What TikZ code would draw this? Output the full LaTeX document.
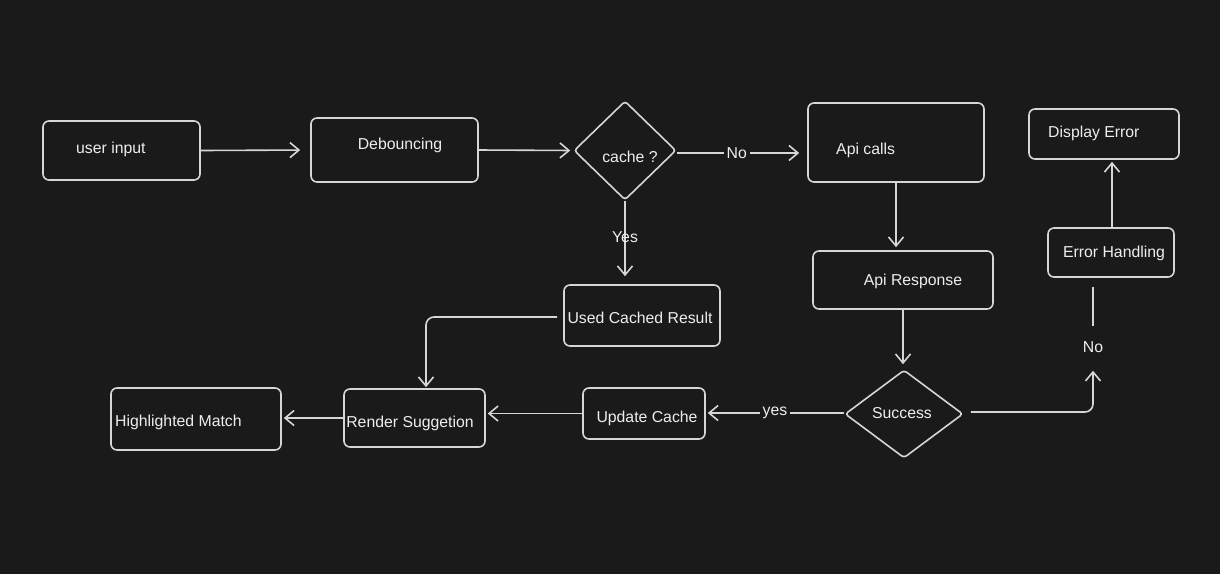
\documentclass[tikz,border=0pt]{standalone}
\usepackage{fontspec}
\setmainfont{Liberation Sans}
\usetikzlibrary{arrows.meta,shapes.geometric,fit}
\definecolor{bg}{HTML}{1A1A1A}
\definecolor{ink}{HTML}{D6D6D6}
\definecolor{txt}{HTML}{EEEEEE}
\tikzset{
  x=1pt,y=-1pt,
  box/.style={draw=ink,line width=1.6pt,rounded corners=6pt,inner sep=0pt},
  dia/.style={draw=ink,line width=1.6pt,shape=diamond,inner sep=0pt,rounded corners=3pt},
  lbl/.style={text=txt,inner sep=2pt,font=\fontsize{15.8}{19}\selectfont},
  arr/.style={draw=ink,line width=1.6pt,-{Straight Barb[length=9pt,width=15pt,line width=1.6pt]}},
  plain/.style={draw=ink,line width=1.6pt},
}
\begin{document}
\begin{tikzpicture}
\fill[bg] (0,0) rectangle (1220,574);
\useasboundingbox (0,0) rectangle (1220,574);
% boxes
\node[box,fit={(43,121) (200,180)}] (ui) {};
\node[box,fit={(311,118) (478,182)}] (db) {};
\node[dia,minimum width=102pt,minimum height=99pt] (cache) at (625,150.5) {};
\node[box,fit={(808,103) (984,182)}] (api) {};
\node[box,fit={(1029,109) (1179,159)}] (de) {};
\node[box,fit={(1048,228) (1174,277)}] (eh) {};
\node[box,fit={(813,251) (993,309)}] (apir) {};
\node[box,fit={(564,285) (720,346)}] (usc) {};
\node[dia,minimum width=118pt,minimum height=88pt] (succ) at (904,414) {};
\node[box,fit={(583,388) (705,439)}] (uc) {};
\node[box,fit={(344,389) (485,447)}] (rs) {};
\node[box,fit={(111,388) (281,450)}] (hm) {};
% texts
\node[lbl,anchor=west] (tui) at (74,149) {user input};
\node[lbl] (tdb) at (400,145) {Debouncing};
\node[lbl] (tcache) at (630,157) {cache ?};
\node[lbl,anchor=west] (tapi) at (834,150) {Api calls};
\node[lbl,anchor=west] (tde) at (1046,133) {Display Error};
\node[lbl] (teh) at (1114,253) {Error Handling};
\node[lbl] (tapir) at (913,281) {Api Response};
\node[lbl] (tusc) at (640,318) {Used Cached Result};
\node[lbl] (tsucc) at (902,413) {Success};
\node[lbl] (tuc) at (647,418) {Update Cache};
\node[lbl] (trs) at (410,423) {Render Suggetion};
\node[lbl,anchor=west] (thm) at (113,422) {Highlighted Match};
\node[lbl] (nolbl) at (1093,347) {No};
% connectors
\draw[arr,shorten >=10pt] (ui.east) -- (db.west);
\draw[arr,shorten >=3pt] (db.east) -- (cache.west);
\draw[arr,shorten >=8pt] ([yshift=-2.5pt]cache.east) -- ([yshift=-2.5pt]cache.east -| api.west)
  node[lbl,fill=bg,pos=0.46,inner xsep=3pt] {No};
\draw[arr,shorten >=8pt] (cache.south) -- (cache.south |- usc.north)
  node[lbl,pos=0.44] {Yes};
\draw[arr,rounded corners=8pt,shorten >=1pt] ([xshift=-6pt,yshift=-1.5pt]usc.west) -| ([xshift=11.5pt]rs.north);
\draw[arr,shorten >=3pt] (api.south) -- (api.south |- apir.north);
\draw[arr,shorten >=5pt] (apir.south) -- (apir.south |- succ.north);
\draw[arr,shorten >=2pt] ([yshift=1pt]succ.west) -- ([yshift=1pt]succ.west -| uc.east)
  node[lbl,fill=bg,pos=0.5,inner xsep=3pt] {yes};
\draw[arr,shorten >=2pt] (uc.west) -- (uc.west -| rs.east);
\draw[arr,shorten >=2pt] (rs.west) -- (rs.west -| hm.east);
\draw[arr,rounded corners=8pt,shorten >=16pt] ([xshift=7pt,yshift=2pt]succ.east) -| (nolbl.south);
\draw[plain,shorten <=13pt,shorten >=9pt] (nolbl.north) -- (nolbl.north |- eh.south);
\draw[arr,shorten >=2pt] ([xshift=1pt]eh.north) -- ([xshift=1pt]eh.north |- de.south);
\end{tikzpicture}
\end{document}
